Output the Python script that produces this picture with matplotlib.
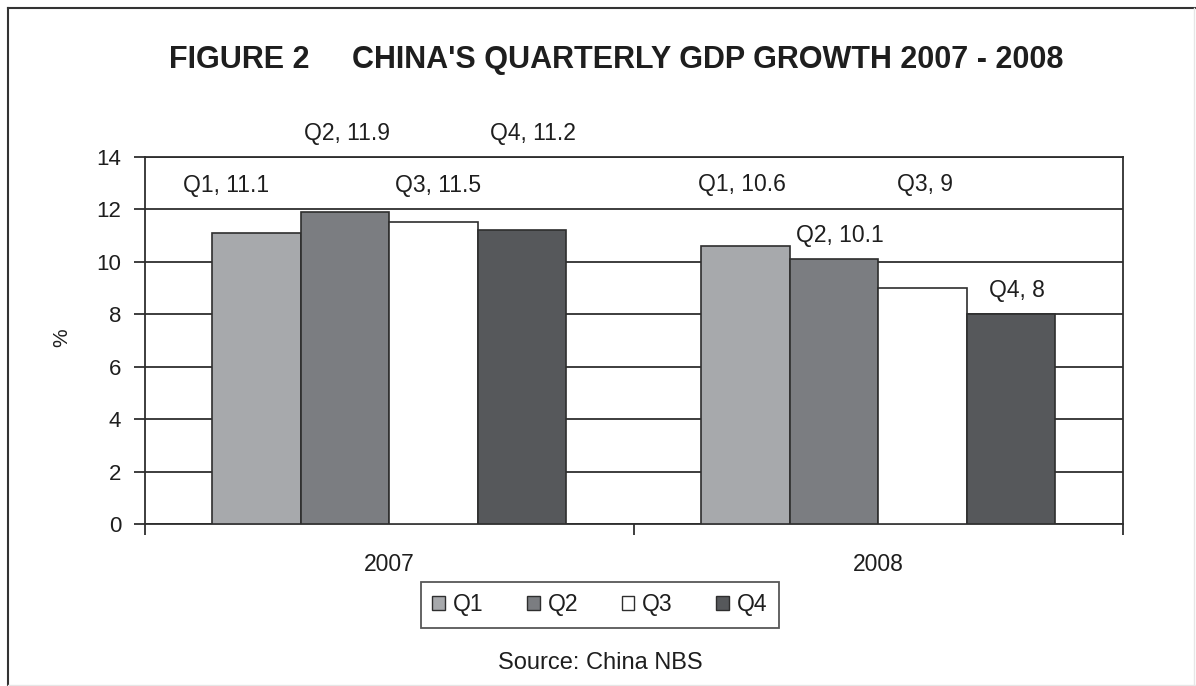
import numpy as np
import matplotlib.pyplot as plt
from matplotlib.lines import Line2D
from matplotlib.patches import Patch

plt.rcParams['font.family'] = ['Liberation Sans', 'DejaVu Sans']

years = ['2007', '2008']
quarters = ['Q1', 'Q2', 'Q3', 'Q4']
# quarterly GDP growth, % (one list per quarter, one value per year)
q1 = [11.1, 10.6]
q2 = [11.9, 10.1]
q3 = [11.5, 9.0]
q4 = [11.2, 8.0]
yticks = [0, 2, 4, 6, 8, 10, 12, 14]

colors = ['#a7a9ac', '#7b7d81', '#ffffff', '#56585b']
edge = '#2e2e2e'
text_c = '#1e1e1e'

# where the value labels sit, per quarter and year (excel-style placement)
label_y = [[12.9, 12.95], [14.9, 11.0], [12.9, 12.95], [14.9, 8.9]]
label_dx = [[-0.063, -0.008], [0.004, 0.012], [0.008, 0.004], [0.022, 0.012]]

fig = plt.figure(figsize=(11.96, 6.86), dpi=100)
ax = fig.add_axes([0.1212, 0.2362, 0.8177, 0.535])

x = np.arange(len(years))
w = 0.181
series = [q1, q2, q3, q4]
for i, (vals, c, q) in enumerate(zip(series, colors, quarters)):
    pos = x + (i - 1.5) * w
    ax.bar(pos, vals, width=w, color=c, edgecolor=edge, linewidth=1.2, zorder=3)
    for px, v, ly, dx in zip(pos, vals, label_y[i], label_dx[i]):
        s = f'{v:g}'
        ax.text(px + dx, ly, f'{q}, {s}', ha='center', va='center',
                fontsize=16.5, color=text_c, clip_on=False)

ax.set_xlim(-0.5, 1.5)
ax.set_ylim(0, 14)
ax.set_yticks(yticks)
ax.set_xticks([-0.5, 0.5, 1.5])
ax.set_xticklabels([])
ax.tick_params(axis='x', direction='out', length=8, width=1.3, color=edge)
ax.tick_params(axis='y', direction='out', length=8, width=1.3, color=edge,
               labelsize=16, labelcolor=text_c, pad=9)
ax.yaxis.grid(True, color=edge, linewidth=1.3, zorder=0)
for sp in ax.spines.values():
    sp.set_color(edge)
    sp.set_linewidth(1.3)

for xi, yr in zip(x, years):
    ax.text(xi, -1.55, yr, ha='center', va='center', fontsize=16.5, color=text_c)

fig.text(62 / 1196, 1 - 338 / 686, '%', rotation=90, ha='center', va='center',
         fontsize=15, color=text_c)

fig.text(0.515, 0.912, "FIGURE 2     CHINA'S QUARTERLY GDP GROWTH 2007 - 2008",
         ha='center', va='center', fontsize=22, fontweight='bold', color=text_c)

handles = [Patch(facecolor=c, edgecolor=edge, linewidth=1.0) for c in colors]
leg = fig.legend(handles, quarters, loc='center', bbox_to_anchor=(0.5015, 0.1185),
                 ncol=4, fontsize=16.5, frameon=True, fancybox=False,
                 handlelength=0.55, handleheight=0.55, handletextpad=0.35,
                 columnspacing=1.9, borderpad=0.5)
leg.get_frame().set_edgecolor(edge)
leg.get_frame().set_linewidth(1.3)
for t in leg.get_texts():
    t.set_color(text_c)

fig.text(0.502, 0.033, 'Source: China NBS', ha='center', va='center',
         fontsize=17, color=text_c)

# outer frame around the figure
W, H = 1196, 686
fig.add_artist(Line2D([8 / W, 8 / W], [0, 1 - 8 / H], color='#333333', lw=1.5))
fig.add_artist(Line2D([8 / W, 1], [1 - 8 / H, 1 - 8 / H], color='#333333', lw=1.5))
fig.add_artist(Line2D([1194 / W, 1194 / W], [0, 1 - 8 / H], color='#e6e6e6', lw=1.0))
fig.add_artist(Line2D([8 / W, 1], [1.5 / H, 1.5 / H], color='#e6e6e6', lw=1.0))

fig.savefig('out.png', dpi=100)
